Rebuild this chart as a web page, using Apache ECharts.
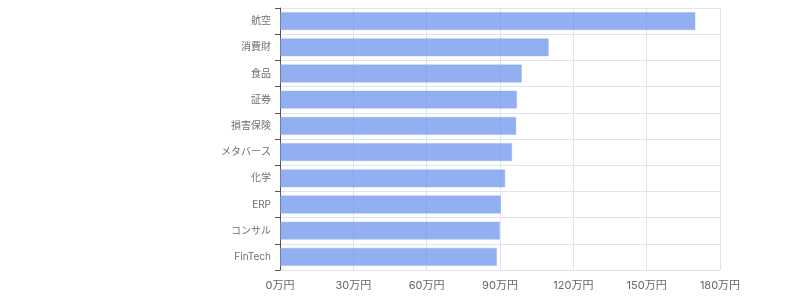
<!DOCTYPE html>
<html>
<head>
<meta charset="utf-8">
<script src="https://cdn.jsdelivr.net/npm/echarts@6/dist/echarts.min.js"></script>
<style>
  html, body { margin: 0; padding: 0; background: #fff; }
  #chart { width: 800px; height: 300px; }
</style>
</head>
<body>
<div id="chart"></div>
<script>
// 業界別の平均値（万円）
const industries = ['航空', '消費財', '食品', '証券', '損害保険', 'メタバース', '化学', 'ERP', 'コンサル', 'FinTech'];
const amounts = [170, 110, 99, 97, 96.7, 95, 92.2, 90.4, 90, 88.8];
const xMin = 0, xMax = 180, xStep = 30;

const chart = echarts.init(document.getElementById('chart'));
chart.setOption({
  animation: false,
  grid: { left: 280, right: 80, top: 8, bottom: 30, containLabel: false },
  xAxis: {
    type: 'value', min: xMin, max: xMax, interval: xStep,
    axisLine: { show: false },
    axisTick: { show: false },
    axisLabel: {
      formatter: v => v + '万円', color: '#666', fontSize: 11,
      fontFamily: 'Inter, "Noto Sans CJK JP", sans-serif', margin: 10
    },
    splitLine: { show: true, lineStyle: { color: '#dfe4f2', width: 1 } }
  },
  yAxis: {
    type: 'category', data: industries, inverse: true,
    axisLine: { show: true, lineStyle: { color: '#555', width: 1 } },
    axisTick: { show: true, length: 5, lineStyle: { color: '#555' } },
    axisLabel: {
      color: '#707070', fontSize: 10, margin: 9,
      fontFamily: 'Inter, "Noto Sans CJK JP", sans-serif'
    },
    splitLine: { show: true, lineStyle: { color: '#dfe4f2', width: 1 } }
  },
  series: [{
    type: 'bar', data: amounts, barWidth: '70%',
    itemStyle: {
      color: 'rgba(100,143,235,0.7)',
      borderColor: 'rgba(143,173,238,0.35)', borderWidth: 1
    }
  }]
});
</script>
</body>
</html>
